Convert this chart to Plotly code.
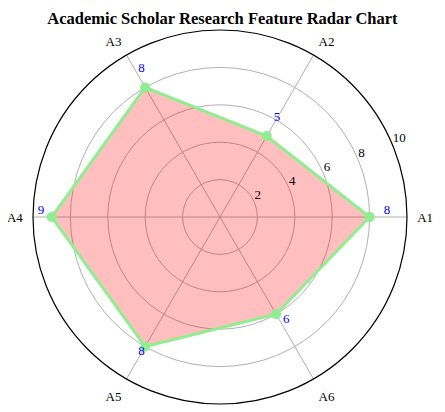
import plotly.graph_objects as go

categories = ["A1", "A2", "A3", "A4", "A5", "A6"]
values = [8, 5, 8, 9, 8, 6]
radial_ticks = [2, 4, 6, 8, 10]

n = len(categories)
angles = [i * 360.0 / n for i in range(n)]
theta_closed = angles + angles[:1]
r_closed = values + values[:1]

FONT = "Liberation Serif"
LABEL_ANGLE = 22.5

fig = go.Figure()
fig.add_trace(go.Scatterpolar(
    r=r_closed, theta=theta_closed, mode="lines+markers",
    fill="toself", fillcolor="rgba(255,0,0,0.25)",
    line=dict(color="#90ee90", width=3),
    marker=dict(color="#90ee90", size=10),
    hoverinfo="skip", showlegend=False,
))
# value labels
fig.add_trace(go.Scatterpolar(
    r=[v + 0.75 for v in values], theta=angles, mode="text",
    text=[str(v) for v in values],
    textfont=dict(color="blue", family=FONT, size=13),
    textposition="top right", cliponaxis=False,
    hoverinfo="skip", showlegend=False,
))
# radial tick labels
fig.add_trace(go.Scatterpolar(
    r=radial_ticks, theta=[LABEL_ANGLE] * len(radial_ticks), mode="text",
    text=[str(t) for t in radial_ticks],
    textfont=dict(color="black", family=FONT, size=13),
    textposition="top right", cliponaxis=False,
    hoverinfo="skip", showlegend=False,
))

fig.update_layout(
    width=445, height=412,
    margin=dict(l=25, r=46, t=22, b=16),
    paper_bgcolor="white",
    font=dict(family=FONT, size=13, color="black"),
    title=dict(text="<b>Academic Scholar Research Feature Radar Chart</b>",
               x=0.482, xanchor="center", y=0.99, yanchor="top",
               font=dict(family=FONT, size=16.5, color="black")),
    polar=dict(
        bgcolor="white",
        angularaxis=dict(
            type="linear", thetaunit="degrees",
            direction="counterclockwise", rotation=0,
            tickvals=angles, ticktext=categories,
            showline=True, linecolor="black", linewidth=1.2,
            gridcolor="#b0b0b0", gridwidth=0.8,
            ticks="outside", ticklen=7, tickcolor="rgba(0,0,0,0)",
            tickfont=dict(family=FONT, size=13, color="black"),
        ),
        radialaxis=dict(
            range=[0, 10], tickvals=radial_ticks,
            showticklabels=False, showline=False, ticks="",
            angle=LABEL_ANGLE,
            gridcolor="#b0b0b0", gridwidth=0.8,
        ),
    ),
)

fig.write_html("out.html")
